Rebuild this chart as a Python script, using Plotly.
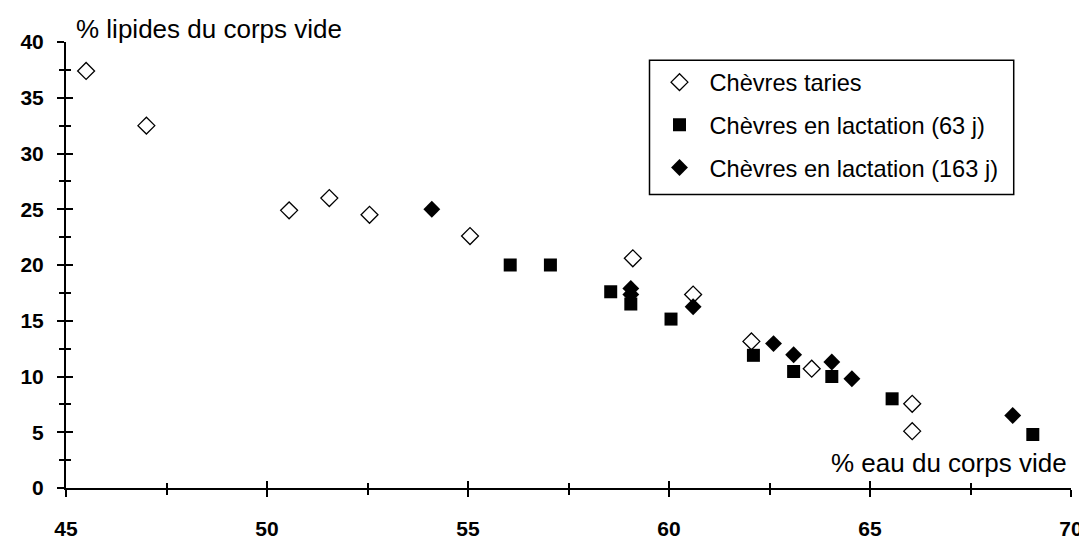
import plotly.graph_objects as go

# Chèvres taries (open diamonds)
taries_x = [45.5, 47.0, 50.55, 51.55, 52.55, 55.05, 59.1, 60.6, 62.05, 63.55, 66.05, 66.05]
taries_y = [37.4, 32.5, 24.9, 26.0, 24.5, 22.6, 20.6, 17.35, 13.15, 10.7, 7.55, 5.1]

# Chèvres en lactation (63 j) (filled squares)
lact63_x = [56.05, 57.05, 58.55, 59.05, 60.05, 62.1, 63.1, 64.05, 65.55, 69.05]
lact63_y = [20.0, 20.0, 17.6, 16.5, 15.15, 11.9, 10.45, 10.0, 8.0, 4.8]

# Chèvres en lactation (163 j) (filled diamonds)
lact163_x = [54.1, 59.05, 59.05, 60.6, 62.6, 63.1, 64.05, 64.55, 68.55]
lact163_y = [25.0, 17.9, 17.35, 16.25, 12.95, 11.95, 11.3, 9.8, 6.5]

names = ["Chèvres taries", "Chèvres en lactation (63 j)", "Chèvres en lactation (163 j)"]
x_range = [45, 70]
y_range = [0, 40]
x_title = "% eau du corps vide"
y_title = "% lipides du corps vide"

FONT = "Arial, Liberation Sans, sans-serif"

fig = go.Figure()
fig.add_trace(go.Scatter(
    x=taries_x, y=taries_y, mode="markers", name=names[0], legendgroup="a",
    marker=dict(symbol="diamond-open", size=13, color="black", line=dict(width=1.3, color="black")),
))
fig.add_trace(go.Scatter(
    x=lact63_x, y=lact63_y, mode="markers", name=names[1], legendgroup="b",
    marker=dict(symbol="square", size=13, color="black"),
))
fig.add_trace(go.Scatter(
    x=lact163_x, y=lact163_y, mode="markers", name=names[2], legendgroup="c",
    marker=dict(symbol="diamond", size=13, color="black"),
))
# invisible helper trace on overlay axes carrying the inner halves of the ticks
fig.add_trace(go.Scatter(x=[x_range[0]], y=[y_range[0]], xaxis="x2", yaxis="y2",
                         showlegend=False, hoverinfo="skip", mode="markers",
                         marker=dict(opacity=0, size=1)))

tickfont = dict(family=FONT, size=21, color="black", weight="bold")
tick_common = dict(tickwidth=1.5, tickcolor="black")

fig.update_layout(
    width=1087, height=544,
    margin=dict(l=52, r=17, t=34, b=45),
    paper_bgcolor="white", plot_bgcolor="white",
    showlegend=True,
    legend=dict(
        x=0.5806, y=0.959, xanchor="left", yanchor="top",
        bgcolor="rgba(0,0,0,0)", borderwidth=0,
        font=dict(family=FONT, size=23.6, color="black"),
        tracegroupgap=9, itemwidth=50,
    ),
    shapes=[
        dict(type="rect", xref="paper", yref="paper",
             x0=0.5806, x1=0.943, y0=0.658, y1=0.959,
             line=dict(color="black", width=1.5), fillcolor="rgba(0,0,0,0)", layer="above"),
    ],
    xaxis=dict(
        range=x_range, dtick=5, tick0=45, showgrid=False, zeroline=False,
        showline=True, linecolor="black", linewidth=2,
        ticks="outside", ticklen=7, **tick_common,
        minor=dict(dtick=2.5, ticks="outside", ticklen=5, showgrid=False, **tick_common),
        tickfont=tickfont, ticklabelstandoff=14,
    ),
    yaxis=dict(
        range=y_range, dtick=5, tick0=0, showgrid=False, zeroline=False,
        showline=True, linecolor="black", linewidth=2,
        ticks="outside", ticklen=7, **tick_common,
        minor=dict(dtick=2.5, ticks="outside", ticklen=5, showgrid=False, **tick_common),
        tickfont=tickfont, ticklabelstandoff=9,
    ),
    xaxis2=dict(
        range=x_range, overlaying="x", anchor="y2", side="bottom", dtick=5, tick0=45,
        showgrid=False, zeroline=False, showline=False, showticklabels=False,
        ticks="inside", ticklen=7, **tick_common,
        minor=dict(dtick=2.5, ticks="inside", ticklen=5, showgrid=False, **tick_common),
    ),
    yaxis2=dict(
        range=y_range, overlaying="y", anchor="x2", side="left", dtick=5, tick0=0,
        showgrid=False, zeroline=False, showline=False, showticklabels=False,
        ticks="inside", ticklen=7, **tick_common,
        minor=dict(dtick=2.5, ticks="inside", ticklen=5, showgrid=False, **tick_common),
    ),
    annotations=[
        dict(text=y_title, xref="paper", yref="paper", x=0.008, y=1.030,
             xanchor="left", yanchor="middle", showarrow=False,
             font=dict(family=FONT, size=26, color="black")),
        dict(text=x_title, xref="paper", yref="paper", x=0.998, y=0.056,
             xanchor="right", yanchor="middle", showarrow=False,
             font=dict(family=FONT, size=26, color="black")),
    ],
)

fig.write_html("out.html")
